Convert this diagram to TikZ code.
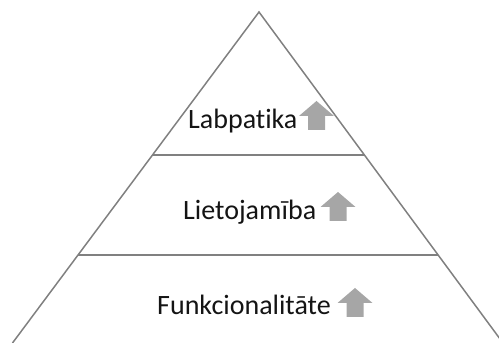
\documentclass[tikz,border=0pt]{standalone}
\usepackage{fontspec}
\setmainfont[Ligatures=NoCommon]{Carlito}
\definecolor{linegray}{RGB}{128,128,128}
\definecolor{arrowgray}{RGB}{166,166,166}
\definecolor{txt}{RGB}{20,20,20}
\begin{document}
\begin{tikzpicture}[x=1pt,y=1pt,
  edge/.style={draw=linegray,line width=1.5pt},
  label/.style={anchor=base west,inner sep=0pt,text=txt,font=\fontsize{28}{34}\selectfont},
  uparrow/.pic={\fill[arrowgray] (-8.5,0) -- (8.5,0) -- (8.5,14) -- (17.5,14) -- (0,29) -- (-17.5,14) -- (-8.5,14) -- cycle;}
]
\useasboundingbox (0,0) rectangle (499,343);
\begin{scope}
\clip (0,0) rectangle (499,343);
\coordinate (apex) at (259,331);
\coordinate (bl) at (12.5,0);
\coordinate (br) at (503,0);
\draw[edge,line join=miter] (bl) -- (apex) -- (br);
\coordinate (l1) at (153,188);
\coordinate (r1) at (364,188);
\coordinate (l2) at (78,88);
\coordinate (r2) at (438,88);
\draw[edge] (l1) -- (r1);
\draw[edge] (l2) -- (r2);
\end{scope}
\node[label] (t1) at (188,214) {Labpatika};
\node[label] (t2) at (183,123) {Lietojamība};
\node[label] (t3) at (157,28) {Funkcionalitāte};
\pic at (316.5,213) {uparrow};
\pic at (338,122) {uparrow};
\pic at (355,26) {uparrow};
\end{tikzpicture}
\end{document}
